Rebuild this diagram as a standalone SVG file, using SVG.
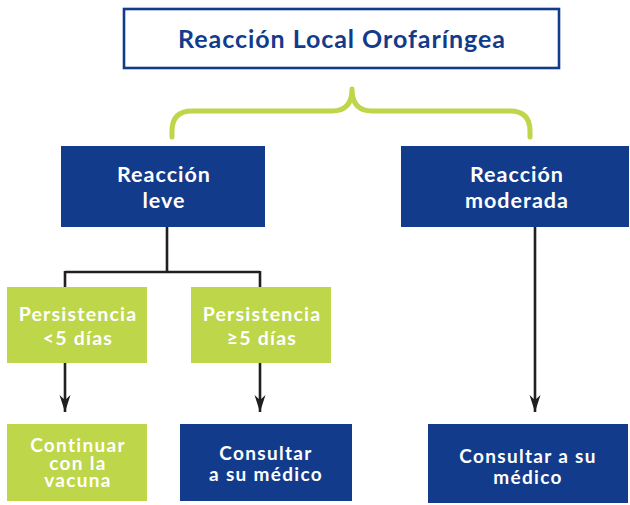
<svg xmlns="http://www.w3.org/2000/svg" width="630" height="505" viewBox="0 0 630 505">
  <defs>
    <style>
      .blue { fill: #133b8b; }
      .green { fill: #bed64a; }
      .t { font-family: Lato, "Open Sans", "Liberation Sans", sans-serif; font-weight: 700; text-anchor: middle; fill: #ffffff; }
      .title { font-size: 25px; letter-spacing: 0.95px; fill: #133b8b; }
      .l1 { font-size: 21.5px; letter-spacing: 1px; }
      .l2 { font-size: 19.5px; letter-spacing: 1.2px; }
      .l3 { font-size: 19px; letter-spacing: 1.3px; }
      .line { fill: none; stroke: #231f20; stroke-width: 2.6; }
    </style>
    <marker id="arrow" markerUnits="userSpaceOnUse" markerWidth="20" markerHeight="14" viewBox="-18 -7 20 14" refX="0" refY="0" orient="auto">
      <path d="M0,0 L-17,-5.5 L-12,0 L-17,5.5 Z" fill="#231f20"/>
    </marker>
  </defs>

  <g id="title">
    <rect x="124" y="9" width="435" height="59" fill="#ffffff" stroke="#133b8b" stroke-width="2.6"/>
    <text class="t title" x="342" y="48">Reacción Local Orofaríngea</text>
  </g>

  <g id="brace">
    <path d="M172,137 V131 Q172,111 192,111 H332 Q352,111 352,89 Q352,111 372,111 H510 Q530,111 530,131 V137" fill="none" stroke="#bed64a" stroke-width="5" stroke-linecap="round" stroke-linejoin="round"/>
  </g>

  <g id="connectors">
    <path class="line" d="M167,227 V272 M65,272 H260 M65,271 V287 M260,271 V287"/>
    <line class="line" x1="65" y1="363" x2="65" y2="412" marker-end="url(#arrow)"/>
    <line class="line" x1="260" y1="363" x2="260" y2="412" marker-end="url(#arrow)"/>
    <line class="line" x1="535" y1="227" x2="535" y2="412" marker-end="url(#arrow)"/>
  </g>

  <g id="leve">
    <rect class="blue" x="61" y="146" width="204" height="81"/>
    <text class="t l1" x="164" y="182">Reacción</text>
    <text class="t l1" x="164" y="208">leve</text>
  </g>

  <g id="moderada">
    <rect class="blue" x="401" y="146" width="228" height="81"/>
    <text class="t l1" x="517" y="182">Reacción</text>
    <text class="t l1" x="517" y="208">moderada</text>
  </g>

  <g id="persistencia-menor">
    <rect class="green" x="7" y="287" width="140" height="76"/>
    <text class="t l2" x="78" y="321">Persistencia</text>
    <text class="t l2" x="78" y="345">&lt;5 días</text>
  </g>

  <g id="persistencia-mayor">
    <rect class="green" x="191" y="287" width="140" height="76"/>
    <text class="t l2" x="262" y="321">Persistencia</text>
    <text class="t l2" x="262" y="345">≥5 días</text>
  </g>

  <g id="continuar">
    <rect class="green" x="7" y="424" width="140" height="77"/>
    <text class="t l3" x="78" y="452">Continuar</text>
    <text class="t l3" x="78" y="470">con la</text>
    <text class="t l3" x="78" y="487">vacuna</text>
  </g>

  <g id="consultar-1">
    <rect class="blue" x="180" y="424" width="172" height="77"/>
    <text class="t l3" x="266" y="460">Consultar</text>
    <text class="t l3" x="266" y="481">a su médico</text>
  </g>

  <g id="consultar-2">
    <rect class="blue" x="428" y="424" width="200" height="79"/>
    <text class="t l3" x="528" y="463">Consultar a su</text>
    <text class="t l3" x="528" y="484">médico</text>
  </g>
</svg>
